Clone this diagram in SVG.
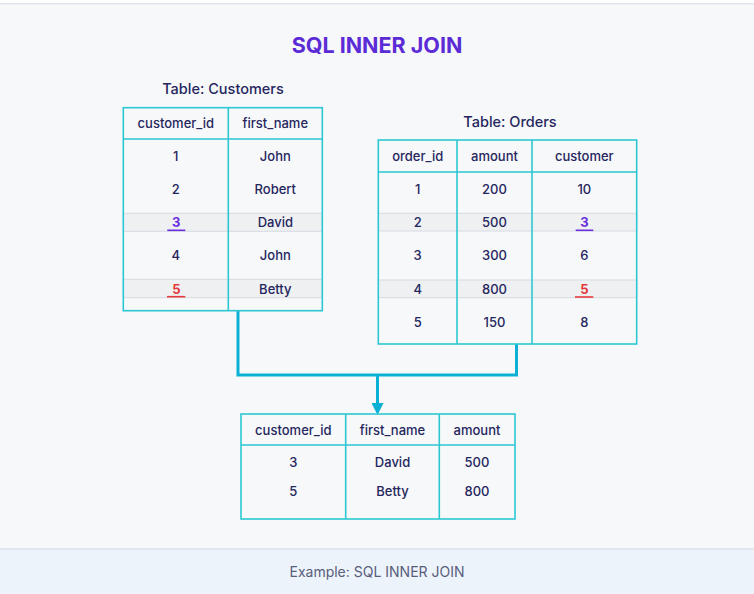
<svg xmlns="http://www.w3.org/2000/svg" width="754" height="594" viewBox="0 0 754 594">
<style>
  text { font-family: Inter, "Liberation Sans", Arial, sans-serif; fill: #25265e; text-anchor: middle; }
  .cell { font-size: 13px; font-weight: 500; }
  .ttl { font-size: 14.5px; font-weight: 500; }
  .grid { fill: none; stroke: #2cc7d3; stroke-width: 1.6; }
  .band { fill: #eef0f2; stroke: #d6dbe2; stroke-width: 1; }
  .conn { fill: none; stroke: #0bb1d4; stroke-width: 3; }
  .ul-p { stroke: #6a2ee0; stroke-width: 1.6; }
  .ul-r { stroke: #e53a3a; stroke-width: 1.6; }
  .hp { fill: #6a2ee0; font-weight: 700; }
  .hr { fill: #e53a3a; font-weight: 700; }
</style>
<defs>
  <marker id="arrow" markerUnits="userSpaceOnUse" markerWidth="12" markerHeight="12" viewBox="0 0 10 10" refX="0" refY="5" orient="auto">
    <path d="M0,0 L10,5 L0,10 Z" fill="#0bb1d4"/>
  </marker>
</defs>
<rect x="0" y="0" width="754" height="594" fill="#f7f8fa"/>
<rect x="0" y="0" width="754" height="3.5" fill="#ffffff"/>
<line x1="0" y1="3.8" x2="754" y2="3.8" stroke="#d8dce3" stroke-width="1"/>
<rect x="0" y="549" width="754" height="45" fill="#edf3fb"/>
<line x1="0" y1="549" x2="754" y2="549" stroke="#d2d9e3" stroke-width="1"/>

<text x="377" y="52.5" style="font-size:21.5px;font-weight:700;fill:#5b2bd6;">SQL INNER JOIN</text>
<text x="377" y="577" style="font-size:14px;fill:#585d7a;">Example: SQL INNER JOIN</text>

<g id="connectors">
  <path class="conn" d="M238,311 V375 H516.5 V344"/>
  <path class="conn" d="M377.5,375 V403" marker-end="url(#arrow)"/>
</g>

<g id="customers">
  <text class="ttl" x="223" y="94">Table: Customers</text>
  <rect class="band" x="123.3" y="213.3" width="199" height="18"/>
  <rect class="band" x="123.3" y="279.3" width="199" height="18.4"/>
  <rect class="grid" x="123.3" y="107.7" width="199" height="203"/>
  <line class="grid" x1="123.3" y1="139" x2="322.3" y2="139"/>
  <line class="grid" x1="228.3" y1="107.7" x2="228.3" y2="310.7"/>
  <text class="cell" x="175.8" y="128">customer_id</text>
  <text class="cell" x="275.3" y="128">first_name</text>
  <text class="cell" x="175.8" y="161.3">1</text>
  <text class="cell" x="275.3" y="161.3">John</text>
  <text class="cell" x="175.8" y="194.3">2</text>
  <text class="cell" x="275.3" y="194.3">Robert</text>
  <text class="cell hp" x="176.3" y="227.3">3</text>
  <line class="ul-p" x1="167.3" y1="230.3" x2="185.3" y2="230.3"/>
  <text class="cell" x="275.3" y="227.3">David</text>
  <text class="cell" x="175.8" y="260.3">4</text>
  <text class="cell" x="275.3" y="260.3">John</text>
  <text class="cell hr" x="176.3" y="293.5">5</text>
  <line class="ul-r" x1="167" y1="296.7" x2="185.3" y2="296.7"/>
  <text class="cell" x="275.3" y="293.5">Betty</text>
</g>

<g id="orders">
  <text class="ttl" x="510" y="127">Table: Orders</text>
  <rect class="band" x="378.3" y="213.3" width="258.4" height="17.7"/>
  <rect class="band" x="378.3" y="280" width="258.4" height="17.7"/>
  <rect class="grid" x="378.3" y="140" width="258.4" height="204"/>
  <line class="grid" x1="378.3" y1="172" x2="636.7" y2="172"/>
  <line class="grid" x1="457" y1="140" x2="457" y2="344"/>
  <line class="grid" x1="532" y1="140" x2="532" y2="344"/>
  <text class="cell" x="417.7" y="161.3">order_id</text>
  <text class="cell" x="494.5" y="161.3">amount</text>
  <text class="cell" x="584.3" y="161.3">customer</text>
  <text class="cell" x="417.7" y="194">1</text>
  <text class="cell" x="494.5" y="194">200</text>
  <text class="cell" x="584.3" y="194">10</text>
  <text class="cell" x="417.7" y="227">2</text>
  <text class="cell" x="494.5" y="227">500</text>
  <text class="cell hp" x="584.5" y="227">3</text>
  <line class="ul-p" x1="575.7" y1="230.3" x2="593.3" y2="230.3"/>
  <text class="cell" x="417.7" y="260.3">3</text>
  <text class="cell" x="494.5" y="260.3">300</text>
  <text class="cell" x="584.3" y="260.3">6</text>
  <text class="cell" x="417.7" y="293.7">4</text>
  <text class="cell" x="494.5" y="293.7">800</text>
  <text class="cell hr" x="584.3" y="293.7">5</text>
  <line class="ul-r" x1="575" y1="297" x2="593.3" y2="297"/>
  <text class="cell" x="417.7" y="326.7">5</text>
  <text class="cell" x="494.5" y="326.7">150</text>
  <text class="cell" x="584.3" y="326.7">8</text>
</g>

<g id="result">
  <rect class="grid" x="241" y="414" width="274" height="105"/>
  <line class="grid" x1="241" y1="445" x2="515" y2="445"/>
  <line class="grid" x1="345.7" y1="414" x2="345.7" y2="519"/>
  <line class="grid" x1="439.3" y1="414" x2="439.3" y2="519"/>
  <text class="cell" x="293.3" y="434.7">customer_id</text>
  <text class="cell" x="392.5" y="434.7">first_name</text>
  <text class="cell" x="477" y="434.7">amount</text>
  <text class="cell" x="293.3" y="467.3">3</text>
  <text class="cell" x="392.5" y="467.3">David</text>
  <text class="cell" x="477" y="467.3">500</text>
  <text class="cell" x="293.3" y="496.3">5</text>
  <text class="cell" x="392.5" y="496.3">Betty</text>
  <text class="cell" x="477" y="496.3">800</text>
</g>
</svg>
